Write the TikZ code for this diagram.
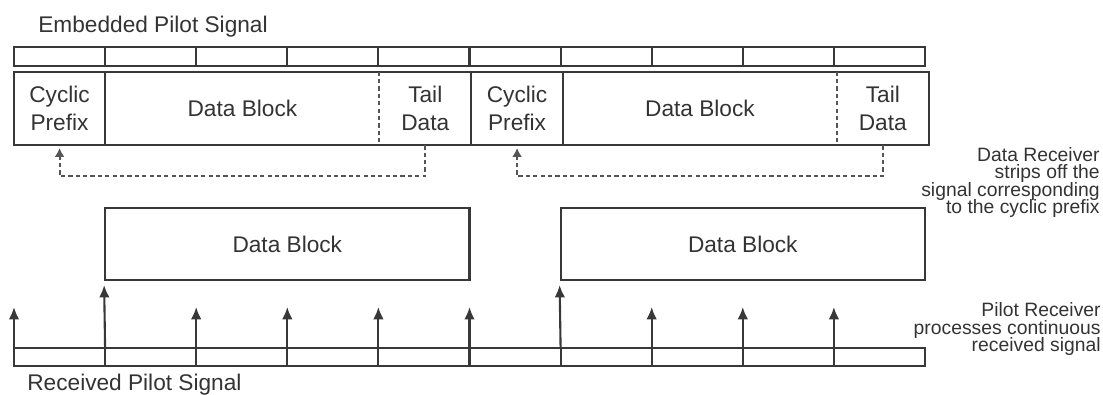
\documentclass[tikz,border=0pt]{standalone}
\usepackage{fontspec}
\setmainfont{Liberation Sans}
\usepackage{tikz}
\usetikzlibrary{shapes,arrows.meta}
\usetikzlibrary{positioning}
\definecolor{ink}{HTML}{383838}
\definecolor{txt}{HTML}{333333}
\definecolor{dots}{HTML}{555555}

\begin{document}
\begin{tikzpicture}[x=0.02cm,y=-0.02cm,
  every node/.style={text=txt,inner sep=0pt},
  big/.style={font={\fontsize{12.9}{15.5}\selectfont},align=center},
  note/.style={font={\fontsize{11}{10}\selectfont\lineskiplimit=-5pt},align=right},
  seg/.style={big,minimum height=1.46cm},
  block/.style={big,draw=ink,line width=1.2pt,minimum width=7.288cm,minimum height=1.44cm},
  frame/.style={draw=ink,line width=1.2pt},
  sep/.style={draw=dots,line width=1.1pt,dash pattern=on 2.4pt off 1.8pt},
  strip/.style={sep,-{Latex[length=5pt,width=5.5pt]},shorten >=1.5pt},
  pilot/.style={frame,-{Latex[length=7pt,width=6pt]}}]

  \useasboundingbox (0,0) rectangle (1103,395);

  % embedded pilot
  \node[big,anchor=base west] (emb) at (38,33) {Embedded Pilot Signal};
  \foreach \i in {0,...,9}
    \draw[frame] ({14+91.1*\i},47) rectangle ++(91.1,19);

  % transmitted blocks
  \node[seg,minimum width=1.822cm] (cp1) at (59.55,108.5) {Cyclic\\Prefix};
  \node[seg,minimum width=5.466cm,right=0pt of cp1] (fb1) {Data Block};
  \node[seg,minimum width=1.822cm,right=0pt of fb1] (td1) {Tail\\Data};
  \node[seg,minimum width=1.822cm,right=0pt of td1] (cp2) {Cyclic\\Prefix};
  \node[seg,minimum width=5.466cm,right=0pt of cp2] (fb2) {Data Block};
  \node[seg,minimum width=1.822cm,right=0pt of fb2] (td2) {Tail\\Data};

  \draw[frame] (cp1.north west) rectangle (td2.south east);
  \draw[frame] (cp1.north east) -- (cp1.south east)
    (cp2.north west) -- (cp2.south west) (cp2.north east) -- (cp2.south east);
  \draw[sep] (fb1.north east) -- (fb1.south east) (fb2.north east) -- (fb2.south east);

  % cyclic prefix copies
  \draw[strip] (td1.south) -- ++(0,31) -| (cp1.south);
  \draw[strip] (td2.south) -- ++(0,31) -| (cp2.south);

  \node[note,anchor=east] (drx) at (1100,182.4)
    {Data Receiver\\strips off the\\signal corresponding\\to the cyclic prefix};

  % data receiver
  \node[block] (db1) at (287.3,244) {Data Block};
  \node[block] (db2) at (742.8,244) {Data Block};

  % received pilot
  \foreach \i in {0,...,9}
    \draw[frame] ({14+91.1*\i},348) rectangle ++(91.1,18);
  \foreach \i in {0,...,10}
    \coordinate (p\i) at ({14+91.1*\i},348);
  \foreach \i in {0,2,3,4,5,7,8,9}
    \draw[pilot] (p\i) -- ++(0,-41);
  \draw[pilot,shorten >=2.3pt] (p1) -- (db1.south west);
  \draw[pilot,shorten >=2.3pt] (p6) -- (db2.south west);

  \node[note,anchor=east] (prx) at (1101,329.3)
    {Pilot Receiver\\processes continuous\\received signal};
  \node[big,anchor=base west] (rcv) at (27,390) {Received Pilot Signal};

\end{tikzpicture}
\end{document}
